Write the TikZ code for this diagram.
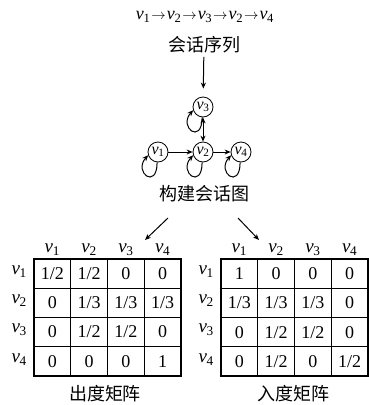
\documentclass[tikz,border=0pt]{standalone}
\usepackage{fontspec}
\setmainfont{Liberation Serif}
\newfontfamily\cjk{Noto Sans CJK SC}
\usetikzlibrary{arrows.meta,matrix}
\newcommand\nv[1]{\textit{ν}\kern-0.3pt\textsubscript{#1}}
\newcommand\sarr{\kern1pt{\fontsize{14}{14}\selectfont$\rightarrow$}\kern1pt}
\begin{document}
\begin{tikzpicture}[x=1pt,y=-1pt,
  arr/.style={-{Stealth[length=6pt,width=5pt]}, line width=1pt},
  darr/.style={{Stealth[length=6pt,width=5pt]}-{Stealth[length=6pt,width=5pt]}, line width=1pt},
  vtx/.style={circle,draw,line width=0.8pt,minimum size=20pt,inner sep=0pt,font=\fontsize{16}{16}\selectfont},
  cn/.style={font=\cjk\fontsize{18}{18}\selectfont},
  lab/.style={font=\fontsize{19}{19}\selectfont,inner sep=0pt},
  cell/.style={draw,line width=1.3pt,minimum width=36.8pt,minimum height=29.2pt,inner sep=0pt,font=\fontsize{18}{18}\selectfont},
  mat/.style={matrix of nodes,nodes={cell},column sep=-1.3pt,row sep=-1.3pt,inner sep=0pt}]
\useasboundingbox (0,0) rectangle (369,405);

% sequence
\node[font=\fontsize{18}{18}\selectfont] (seq) at (205,17) {\nv1\sarr\nv2\sarr\nv3\sarr\nv2\sarr\nv4};
\node[cn] (hs) at (204,45) {会话序列};

% graph
\node[vtx] (v3) at (203,107) {\nv3};
\node[vtx] (v1) at (158,152) {\nv1};
\node[vtx] (v2) at (203,152) {\nv2};
\node[vtx] (v4) at (241,152) {\nv4};
\draw[arr, shorten >=8pt] (hs) -- (v3);
\draw[darr] (v3) -- (v2);
\draw[arr] (v1) -- (v2);
\draw[arr] (v2) -- (v4);
\foreach \n in {v1,v2,v3,v4}{
  \draw[arr] (\n.265) .. controls +(0,28) and +(-15,17) .. (\n.198);
}
\node[cn] (hg) at (204,194) {构建会话图};
\coordinate (lt) at (145,240);
\coordinate (rt) at (259,240);
\draw[arr] (168,218) -- (lt);
\draw[arr] (238,218) -- (rt);

% matrices
\matrix[mat] (A) at (107.5,317.5) {
1/2 & 1/2 & 0 & 0 \\
0 & 1/3 & 1/3 & 1/3 \\
0 & 1/2 & 1/2 & 0 \\
0 & 0 & 0 & 1 \\
};
\matrix[mat] (B) at (294.5,317.5) {
1 & 0 & 0 & 0 \\
1/3 & 1/3 & 1/3 & 0 \\
0 & 1/2 & 1/2 & 0 \\
0 & 1/2 & 0 & 1/2 \\
};
\foreach \m in {A,B}{
  \foreach \i in {1,2,3,4}{
    \node[lab,anchor=south] (\m c\i) at ([yshift=3pt]\m-1-\i.north) {\nv{\i}};
    \node[lab] (\m r\i) at ([xshift=-14pt,yshift=2pt]\m-\i-1.west) {\nv{\i}};
  }
}
\node[cn] (ha) at (105,394) {出度矩阵};
\node[cn] (hb) at (293,394) {入度矩阵};
\end{tikzpicture}
\end{document}
